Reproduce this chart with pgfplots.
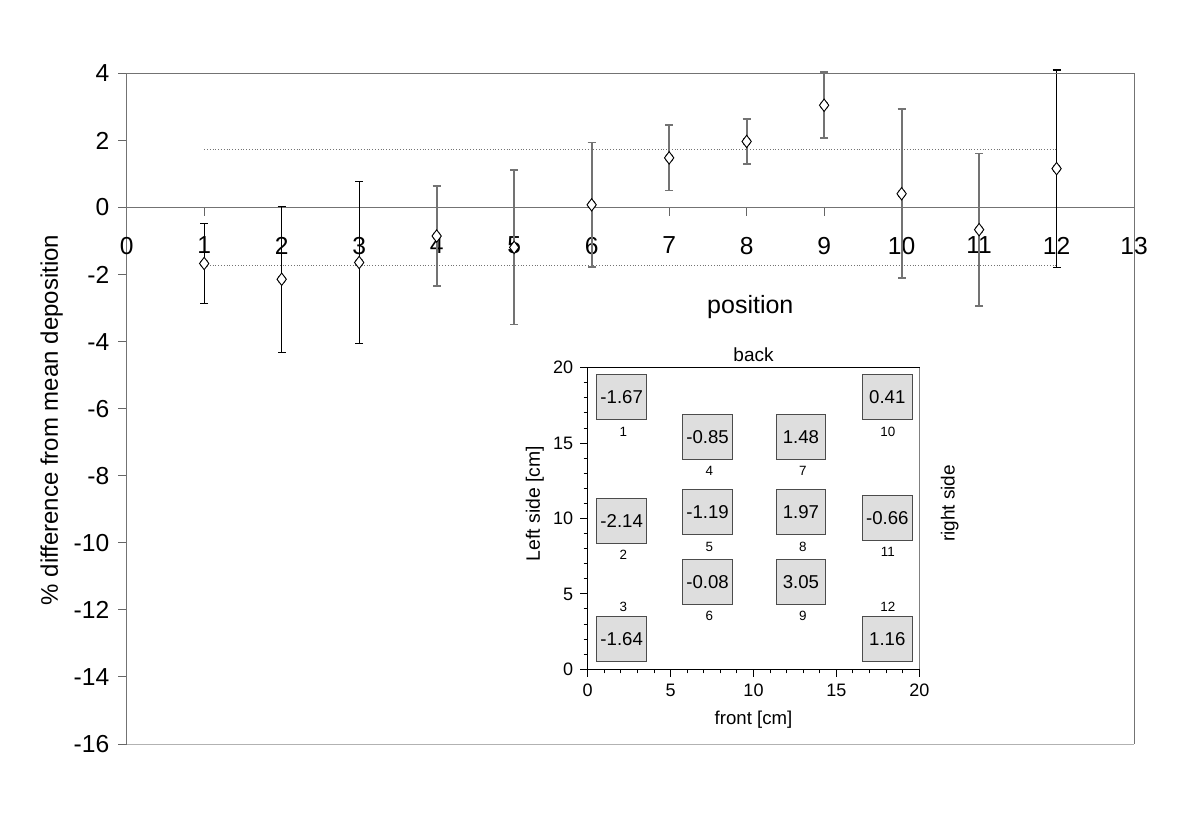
\documentclass[border=0pt]{standalone}
\usepackage{fontspec}
\setmainfont{Liberation Sans}
\usepackage{pgfplots}
\pgfplotsset{compat=1.18}
\usepackage{pgfplotstable}

\pgfplotstableread{
x y e
1 -1.67 1.20
2 -2.14 2.18
3 -1.64 2.42
12 1.16 2.94
}\dataA
\pgfplotstableread{
x y e
4 -0.85 1.49
5 -1.19 2.30
6 0.08 1.86
7 1.48 0.97
8 1.97 0.675
9 3.05 0.985
10 0.41 2.52
11 -0.66 2.27
}\dataB
\pgfplotstableread{
x y v
2.05 18.04 -1.67
7.23 15.42 -0.85
12.86 15.42 1.48
18.07 18.04 0.41
2.05 9.82 -2.14
7.23 10.43 -1.19
12.86 10.43 1.97
18.07 10.02 -0.66
7.23 5.79 -0.08
12.86 5.79 3.05
2.05 2.00 -1.64
18.07 2.00 1.16
}\boxes
\pgfplotstableread{
x y n
2.15 15.75 1
18.10 15.75 10
7.33 13.15 4
12.97 13.15 7
2.15 7.58 2
18.10 7.80 11
7.33 8.13 5
12.97 8.13 8
7.33 3.53 6
12.97 3.53 9
2.15 4.15 3
18.10 4.15 12
}\poslabels

\begin{document}
\begin{tikzpicture}
\path[use as bounding box] (0,0) rectangle (600pt,408pt);
\begin{axis}[
  at={(63.35pt,36pt)}, anchor=south west,
  scale only axis, width=503.7pt, height=335.3pt,
  xmin=0, xmax=13, ymin=-16, ymax=4,
  clip=false,
  axis x line*=middle, axis y line*=left,
  x axis line style={-, black!55, line width=0.5pt},
  y axis line style={-, black!55, line width=0.5pt},
  hide obscured x ticks=false,
  xtick={0,1,...,13}, ytick={-16,-14,...,4},
  tick align=outside,
  major tick length=4.2pt,
  every tick/.style={black!60, line width=0.5pt},
  tick label style={font=\fontsize{12.3}{14}\selectfont},
  /pgf/number format/assume math mode=true,
  xticklabel style={yshift=-7pt},
  yticklabel style={xshift=-1pt},
]
\addplot[densely dotted, black!55, line width=0.4pt] coordinates {(1,1.72) (12,1.72)};
\addplot[densely dotted, black!55, line width=0.4pt] coordinates {(1,-1.72) (12,-1.72)};
% error bars
\addplot[only marks, mark=none,
  error bars/.cd, y dir=both, y explicit,
  error bar style={black, line width=0.6pt},
  error mark options={rotate=90, black, mark size=2pt, line width=0.6pt}]
  table[x=x, y=y, y error=e]{\dataA};
\addplot[only marks, mark=none,
  error bars/.cd, y dir=both, y explicit,
  error bar style={black!55, line width=0.9pt},
  error mark options={rotate=90, black!55, mark size=2pt, line width=0.9pt}]
  table[x=x, y=y, y error=e]{\dataB};
% markers on top
\addplot[only marks, mark=diamond*, mark size=3.1pt, mark options={draw=black, fill=white, line width=0.45pt}]
  table[x=x, y=y]{\dataA};
\addplot[only marks, mark=diamond*, mark size=3.1pt, mark options={draw=black, fill=white, line width=0.45pt}]
  table[x=x, y=y]{\dataB};
\draw[black!55, line width=0.5pt] (rel axis cs:0,1) -- (rel axis cs:1,1) -- (rel axis cs:1,0);
\draw[black!30, line width=0.5pt] (rel axis cs:0,0) -- (rel axis cs:1,0);
\node[font=\fontsize{12.5}{14}\selectfont] at (axis description cs:0.619,0.652) {position};
\node[rotate=90, font=\fontsize{12}{14}\selectfont] at (axis description cs:-0.0745,0.483) {\% difference from mean deposition};
\end{axis}

\begin{axis}[
  at={(293.85pt,73.35pt)}, anchor=south west,
  scale only axis, width=165.8pt, height=150.8pt,
  xmin=0, xmax=20, ymin=0, ymax=20,
  clip=false,
  xtick={0,5,...,20}, ytick={0,5,...,20},
  minor tick num=4, tick align=outside,
  xtick pos=bottom, ytick pos=left,
  major tick length=3.8pt, minor tick length=2pt,
  axis line style={black, line width=0.6pt},
  every tick/.style={black, line width=0.5pt},
  tick label style={font=\fontsize{9}{10}\selectfont},
  /pgf/number format/assume math mode=true,
  xlabel={front [cm]},
  xlabel style={at={(axis description cs:0.5,-0.168)}, anchor=center, font=\fontsize{9.3}{11}\selectfont},
  ylabel={Left side [cm]},
  ylabel style={at={(axis description cs:-0.159,0.55)}, anchor=center, font=\fontsize{9.7}{11}\selectfont},
]
\addplot[only marks, mark=none, nodes near coords, point meta=explicit symbolic,
  nodes near coords style={anchor=center, fill=black!13, draw=black!70, line width=0.4pt,
    minimum width=24.9pt, minimum height=22.6pt, inner sep=0pt, text=black,
    font=\fontsize{9.3}{10}\selectfont}]
  table[x=x, y=y, meta=v]{\boxes};
\addplot[only marks, mark=none, nodes near coords, point meta=explicit symbolic,
  nodes near coords style={anchor=center, text=black, inner sep=0pt, font=\fontsize{6.7}{8}\selectfont}]
  table[x=x, y=y, meta=n]{\poslabels};
\draw[black!50, line width=0.7pt] (rel axis cs:1,0) -- (rel axis cs:1,1);
\node[anchor=base, inner sep=0pt, yshift=3pt, font=\fontsize{9.5}{11}\selectfont] at (axis description cs:0.5,1) {back};
\node[rotate=90, font=\fontsize{9.5}{11}\selectfont] at (axis description cs:1.092,0.55) {right side};
\end{axis}
\end{tikzpicture}
\end{document}
